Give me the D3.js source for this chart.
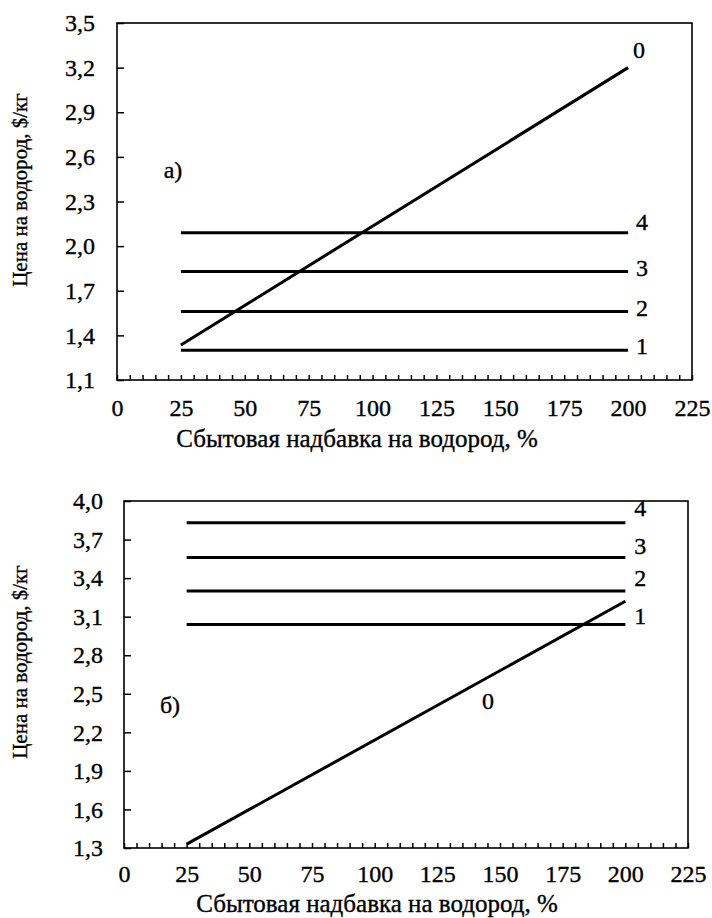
<!DOCTYPE html>
<html>
<head>
<meta charset="utf-8">
<style>
  body { margin: 0; background: #fff; }
  .axis .domain { display: none; }
  .axis line { stroke: #000; stroke-width: 1.5; }
  svg text { stroke: #000; stroke-width: 0.35; }
</style>
</head>
<body>
<svg width="712" height="918"></svg>
<script src="https://cdn.jsdelivr.net/npm/d3@7"></script>
<script>

// markup, % (x of every line: start and end)
var markup = [25, 200];

// panel а)
var lineA0 = [1.335, 3.2];
var levelsA = [1.30, 1.56, 1.83, 2.09];   // lines 1..4
var yTicksA = [1.1, 1.4, 1.7, 2.0, 2.3, 2.6, 2.9, 3.2, 3.5];

// panel б)
var lineB0 = [1.33, 3.22];
var levelsB = [3.04, 3.30, 3.56, 3.83];   // lines 1..4
var yTicksB = [1.3, 1.6, 1.9, 2.2, 2.5, 2.8, 3.1, 3.4, 3.7, 4.0];

var xLabels = [0, 25, 50, 75, 100, 125, 150, 175, 200, 225];
var levelNames = ["1", "2", "3", "4"];

var yTitle = "Цена на водород, $/кг";
var xTitle = "Сбытовая надбавка на водород, %";

var FONT = "'Liberation Serif', 'Times New Roman', 'DejaVu Serif', serif";
var FS = 24;

var ru = d3.formatLocale({decimal: ",", thousands: " ", grouping: [3], currency: ["", "$"]});
var fmt = ru.format(".1f");

var svg = d3.select("svg");

function panel(p) {
  var x = d3.scaleLinear().domain([0, 225]).range([p.left, p.right]);
  var y = d3.scaleLinear().domain([p.yTicks[0], p.yTicks[p.yTicks.length - 1]]).range([p.bottom, p.top]);
  var g = svg.append("g").attr("font-family", FONT).attr("font-size", FS);

  // frame
  g.append("rect")
      .attr("x", p.left).attr("y", p.top)
      .attr("width", p.right - p.left).attr("height", p.bottom - p.top)
      .attr("fill", "none").attr("stroke", "#000").attr("stroke-width", 1.6);

  g.append("g")
      .attr("class", "axis")
      .attr("transform", "translate(" + p.left + ",0)")
      .call(d3.axisLeft(y).tickValues(p.yTicks).tickSize(-7).tickPadding(p.yPad).tickFormat(fmt))
      .attr("font-family", FONT).attr("font-size", FS);

  g.append("g")
      .attr("class", "axis")
      .attr("transform", "translate(0," + p.bottom + ")")
      .call(d3.axisBottom(x).tickValues(d3.range(0, 226, 5)).tickSize(-5).tickPadding(p.xPad)
        .tickFormat(function(d) { return xLabels.indexOf(d) >= 0 ? d : ""; }))
      .attr("font-family", FONT).attr("font-size", FS);

  var line = d3.line().x(function(d) { return x(d[0]); }).y(function(d) { return y(d[1]); });

  // horizontal lines 1..4
  p.levels.forEach(function(v, i) {
    g.append("path")
        .datum(markup.map(function(m) { return [m, v]; }))
        .attr("d", line)
        .attr("fill", "none").attr("stroke", "#000").attr("stroke-width", 3);
    g.append("text")
        .attr("x", x(markup[1]) + p.labelDx)
        .attr("y", y(v) + p.labelDy[i])
        .attr("dy", "0.35em")
        .attr("text-anchor", "middle")
        .text(levelNames[i]);
  });

  // line 0
  g.append("path")
      .datum(markup.map(function(m, i) { return [m, p.line0[i]]; }))
      .attr("d", line)
      .attr("fill", "none").attr("stroke", "#000").attr("stroke-width", 3);
  g.append("text")
      .attr("x", p.zeroPos[0]).attr("y", p.zeroPos[1])
      .attr("dy", "0.35em").attr("text-anchor", "middle")
      .text("0");

  g.append("text")
      .attr("x", p.tagPos[0]).attr("y", p.tagPos[1])
      .attr("dy", "0.35em").attr("text-anchor", "middle")
      .text(p.tag);

  g.append("text")
      .attr("transform", "translate(" + p.yTitleX + "," + p.yTitleY + ") rotate(-90)")
      .attr("text-anchor", "middle")
      .attr("font-size", 21)
      .text(yTitle);

  g.append("text")
      .attr("x", p.xTitleX).attr("y", p.xTitleY)
      .attr("text-anchor", "middle")
      .attr("font-size", 25)
      .text(xTitle);
}

panel({
  left: 117, right: 692, top: 23, bottom: 380, yPad: 22, xPad: 19,
  yTicks: yTicksA, levels: levelsA, line0: lineA0,
  labelDx: 14, labelDy: [-5, -4, -4, -11],
  zeroPos: [639, 50], tag: "а)", tagPos: [173, 170],
  yTitleX: 27, yTitleY: 190, xTitleX: 357, xTitleY: 447
});

panel({
  left: 124, right: 688, top: 501, bottom: 848, yPad: 21, xPad: 17,
  yTicks: yTicksB, levels: levelsB, line0: lineB0,
  labelDx: 15, labelDy: [-9, -13, -12, -15],
  zeroPos: [488, 701], tag: "б)", tagPos: [170, 705],
  yTitleX: 27, yTitleY: 662, xTitleX: 377, xTitleY: 912
});

</script>
</body>
</html>
